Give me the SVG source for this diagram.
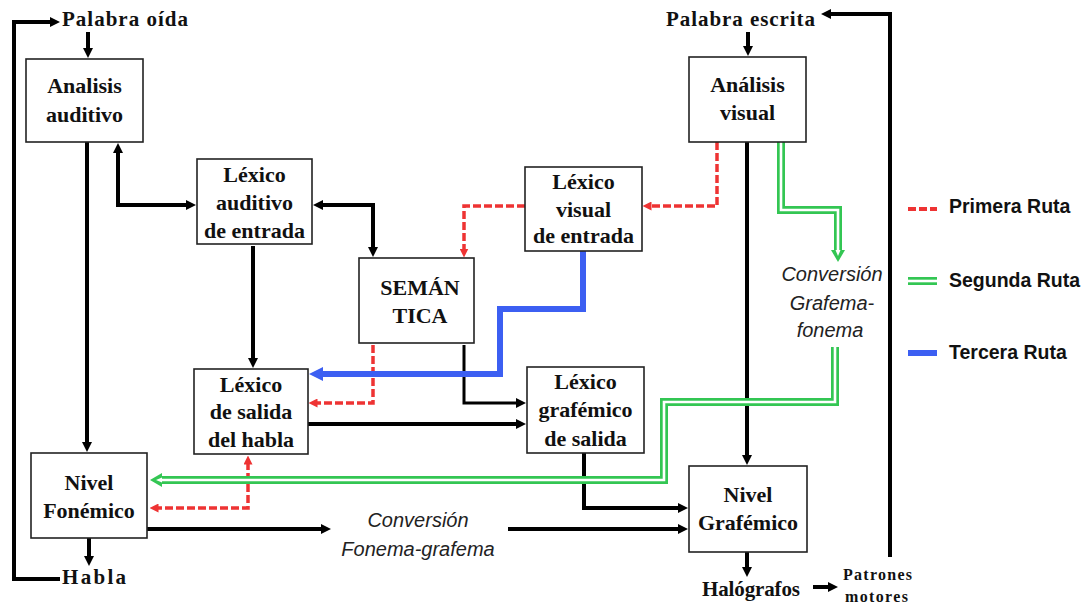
<svg xmlns="http://www.w3.org/2000/svg" width="1085" height="605" viewBox="0 0 1085 605">
  <style>
    .box { fill: #ffffff; stroke: #222222; stroke-width: 1.6; }
    .lbl { font-family: "Liberation Serif", "Times New Roman", serif; font-weight: bold; font-size: 22px; fill: #111111; text-anchor: middle; }
    .term { font-family: "Liberation Serif", "Times New Roman", serif; font-weight: bold; font-size: 21px; fill: #111111; }
    .small { font-family: "Liberation Serif", "Times New Roman", serif; font-weight: bold; font-size: 16px; fill: #111111; }
    .conv { font-family: "Liberation Sans", Arial, sans-serif; font-style: italic; font-size: 20px; fill: #222222; text-anchor: middle; }
    .leg { font-family: "Liberation Sans", Arial, sans-serif; font-weight: bold; font-size: 19.5px; fill: #111111; }
    .blk { fill: none; stroke: #000000; stroke-width: 4; marker-end: url(#ab); }
    .blk3 { stroke-width: 3; }
    .red { fill: none; stroke: #ee3333; stroke-width: 3.5; stroke-dasharray: 8 3; marker-end: url(#ar); }
    .blue { fill: none; stroke: #3c5ff2; stroke-width: 6; marker-end: url(#abl); }
    .gOut { fill: none; stroke: #33c653; stroke-width: 8; }
    .gIn { fill: none; stroke: #ffffff; stroke-width: 2.6; marker-end: url(#ag); }
  </style>
  <defs>
    <marker id="ab" viewBox="0 0 10 10" refX="5" refY="5" markerWidth="10" markerHeight="10" markerUnits="userSpaceOnUse" orient="auto-start-reverse">
      <path d="M0,0 L10,5 L0,10 z" fill="#000000"/>
    </marker>
    <marker id="ar" viewBox="0 0 10 10" refX="5" refY="5" markerWidth="9" markerHeight="9" markerUnits="userSpaceOnUse" orient="auto-start-reverse">
      <path d="M0,0 L10,5 L0,10 z" fill="#ee3333"/>
    </marker>
    <marker id="abl" viewBox="0 0 10 10" refX="5" refY="5" markerWidth="14" markerHeight="14" markerUnits="userSpaceOnUse" orient="auto-start-reverse">
      <path d="M0,0 L10,5 L0,10 z" fill="#3c5ff2"/>
    </marker>
    <marker id="ag" viewBox="0 0 12 14" refX="0" refY="7" markerWidth="12" markerHeight="14" markerUnits="userSpaceOnUse" orient="auto">
      <path d="M0,0 L12,7 L0,14 z" fill="#33c653"/>
      <path d="M0,4.5 L6,7 L0,9.5 z" fill="#ffffff"/>
    </marker>
  </defs>

  <rect width="1085" height="605" fill="#ffffff"/>

  <!-- connectors -->
  <g id="connectors">
    <!-- black flows -->
    <path class="blk" d="M60,579 H14 V22 H55"/>
    <path class="blk" d="M88,32 V53"/>
    <path class="blk" d="M87,142 V447"/>
    <path class="blk" d="M191,205 H118 V148" marker-start="url(#ab)"/>
    <path class="blk" d="M318,205 H373 V252" marker-start="url(#ab)"/>
    <path class="blk" d="M253,246 V363"/>
    <path class="blk blk3" d="M464,345 V403 H521"/>
    <path class="blk" d="M308,424 H521"/>
    <path class="blk" d="M747,142 V460"/>
    <path class="blk" d="M584,453 V508 H683"/>
    <path class="blk" d="M147,529 H326"/>
    <path class="blk" d="M508,529 H683"/>
    <path class="blk" d="M89,538 V561"/>
    <path class="blk" d="M747,552 V572"/>
    <path class="blk" d="M813,587 H833"/>
    <path class="blk" d="M890,557 V14 H826"/>
    <path class="blk" d="M748,32 V51"/>

    <!-- first route (dashed red) -->
    <path class="red" d="M717,142 V206 H647"/>
    <path class="red" d="M525,206 H464 V253"/>
    <path class="red" d="M373,345 V403 H313"/>
    <path class="red" d="M154,508 H248 V460" marker-start="url(#ar)"/>

    <!-- third route (blue) -->
    <path class="blue" d="M583,251 V309 H500 V374 H316"/>

    <!-- second route (double green) -->
    <path class="gOut" d="M781,142 V210 H838 V250"/>
    <path class="gIn" d="M781,142 V210 H838 V250"/>
    <path class="gOut" d="M835,347 V402 H664 V480 H162"/>
    <path class="gIn" d="M835,347 V402 H664 V480 H162"/>
  </g>

  <!-- nodes -->
  <g id="analisis-auditivo">
    <rect class="box" x="26" y="59" width="117" height="83"/>
    <text class="lbl" x="84.5" y="93">Analisis</text>
    <text class="lbl" x="84.5" y="122">auditivo</text>
  </g>
  <g id="lexico-auditivo">
    <rect class="box" x="197" y="159" width="115" height="85"/>
    <text class="lbl" x="254.5" y="182">Léxico</text>
    <text class="lbl" x="254.5" y="210">auditivo</text>
    <text class="lbl" x="254.5" y="238">de entrada</text>
  </g>
  <g id="semantica">
    <rect class="box" x="359" y="258" width="115" height="85"/>
    <text class="lbl" x="420" y="295">SEMÁN</text>
    <text class="lbl" x="420" y="323">TICA</text>
  </g>
  <g id="lexico-visual">
    <rect class="box" x="525" y="167" width="117" height="84"/>
    <text class="lbl" x="583.5" y="189">Léxico</text>
    <text class="lbl" x="583.5" y="217">visual</text>
    <text class="lbl" x="583.5" y="243">de entrada</text>
  </g>
  <g id="analisis-visual">
    <rect class="box" x="689" y="57" width="117" height="85"/>
    <text class="lbl" x="747.5" y="92">Análisis</text>
    <text class="lbl" x="747.5" y="120">visual</text>
  </g>
  <g id="lexico-salida-habla">
    <rect class="box" x="194" y="369" width="114" height="85"/>
    <text class="lbl" x="251" y="392">Léxico</text>
    <text class="lbl" x="251" y="419">de salida</text>
    <text class="lbl" x="251" y="447">del habla</text>
  </g>
  <g id="lexico-grafemico">
    <rect class="box" x="527" y="367" width="117" height="86"/>
    <text class="lbl" x="585.5" y="389">Léxico</text>
    <text class="lbl" x="585.5" y="417">grafémico</text>
    <text class="lbl" x="585.5" y="446">de salida</text>
  </g>
  <g id="nivel-fonemico">
    <rect class="box" x="31" y="453" width="116" height="85"/>
    <text class="lbl" x="89" y="490">Nivel</text>
    <text class="lbl" x="89" y="518">Fonémico</text>
  </g>
  <g id="nivel-grafemico">
    <rect class="box" x="689" y="466" width="118" height="86"/>
    <text class="lbl" x="748" y="502">Nivel</text>
    <text class="lbl" x="748" y="530">Grafémico</text>
  </g>

  <!-- terminal labels -->
  <g id="palabra-oida">
    <text class="term" x="62" y="26" textLength="126">Palabra oída</text>
  </g>
  <g id="habla">
    <text class="term" x="62" y="584" textLength="64">Habla</text>
  </g>
  <g id="palabra-escrita">
    <text class="term" x="666" y="26" textLength="149">Palabra escrita</text>
  </g>
  <g id="halografos">
    <text class="term" x="702" y="596" textLength="98">Halógrafos</text>
  </g>
  <g id="patrones-motores">
    <text class="small" x="843" y="580" textLength="69">Patrones</text>
    <text class="small" x="845" y="602" textLength="63">motores</text>
  </g>

  <!-- conversion labels -->
  <g id="conversion-grafema-fonema">
    <text class="conv" x="832" y="281">Conversión</text>
    <text class="conv" x="832" y="310">Grafema-</text>
    <text class="conv" x="830" y="337">fonema</text>
  </g>
  <g id="conversion-fonema-grafema">
    <text class="conv" x="418" y="527">Conversión</text>
    <text class="conv" x="418" y="556">Fonema-grafema</text>
  </g>

  <!-- legend -->
  <g id="legend">
    <path d="M908,209 H937" fill="none" stroke="#ee3333" stroke-width="4" stroke-dasharray="8 3"/>
    <text class="leg" x="949" y="213">Primera Ruta</text>
    <path d="M908,281 H937" fill="none" stroke="#33c653" stroke-width="8"/>
    <path d="M908,281 H937" fill="none" stroke="#ffffff" stroke-width="2.6"/>
    <text class="leg" x="949" y="287">Segunda Ruta</text>
    <path d="M908,353 H937" fill="none" stroke="#3c5ff2" stroke-width="6"/>
    <text class="leg" x="949" y="359">Tercera Ruta</text>
  </g>
</svg>
